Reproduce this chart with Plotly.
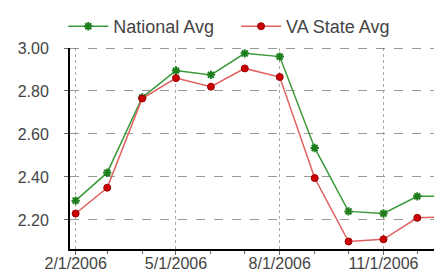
import plotly.graph_objects as go

dates = ["2006-02-01", "2006-03-01", "2006-04-01", "2006-05-01", "2006-06-01",
         "2006-07-01", "2006-08-01", "2006-09-01", "2006-10-01", "2006-11-01",
         "2006-12-01", "2007-01-01"]
national_avg = [2.29, 2.42, 2.77, 2.895, 2.875, 2.975, 2.96, 2.535, 2.24, 2.23, 2.31, 2.31]
va_state_avg = [2.23, 2.35, 2.765, 2.86, 2.82, 2.905, 2.865, 2.395, 2.10, 2.11, 2.21, 2.215]

fig = go.Figure()
fig.add_trace(go.Scatter(
    x=dates, y=national_avg, name="National Avg", mode="lines+markers",
    line=dict(color="#3a9a3a", width=1.5),
    marker=dict(symbol="asterisk", size=7, color="#1e7e1e",
                line=dict(color="#1e7e1e", width=2)),
    legend="legend",
))
fig.add_trace(go.Scatter(
    x=dates, y=va_state_avg, name="VA State Avg", mode="lines+markers",
    line=dict(color="#e06060", width=1.5),
    marker=dict(symbol="circle", size=7, color="#cc0000",
                line=dict(color="#990000", width=1)),
    legend="legend2",
))

fig.add_shape(type="line", xref="paper", yref="y", x0=0, x1=1, y0=3.0, y1=3.0,
              line=dict(color="#333", width=1.2, dash="dash"), layer="above")

legend_style = dict(orientation="h", xref="container", yref="container",
                    y=1.0, xanchor="left", yanchor="top",
                    font=dict(size=18, color="#444"), itemwidth=40,
                    bgcolor="rgba(0,0,0,0)")

fig.update_layout(
    width=442, height=275,
    margin=dict(l=62, r=0, t=40, b=34),
    paper_bgcolor="white", plot_bgcolor="white",
    font=dict(family="Liberation Sans, Arial, sans-serif", size=16, color="#444"),
    showlegend=True,
    legend=dict(x=0.125, **legend_style),
    legend2=dict(x=0.516, **legend_style),
)
fig.update_xaxes(
    type="date", range=["2006-01-27", "2006-12-30"],
    tick0="2006-02-01", dtick="M3", tickformat="%-m/%-d/%Y",
    showline=True, linecolor="black", linewidth=2,
    ticks="outside", ticklen=4, tickcolor="#666",
    showgrid=True, gridcolor="#aaa", griddash="dot", gridwidth=1,
    minor=dict(dtick="M1", tick0="2006-02-01", ticks="outside", ticklen=3,
               tickcolor="#666", showgrid=False),
    tickfont=dict(size=16, color="#444"),
    ticklabelstandoff=-5,
    zeroline=False, automargin=False,
)
fig.update_yaxes(
    range=[2.065, 3.0], dtick=0.2, tick0=2.2, tickformat=".2f",
    showline=True, linecolor="black", linewidth=2,
    ticks="outside", ticklen=4, tickcolor="#666",
    showgrid=True, gridcolor="#999", griddash="dash", gridwidth=1,
    tickfont=dict(size=16, color="#444"),
    ticklabelstandoff=12,
    zeroline=False, automargin=False,
)

fig.write_html("out.html")
